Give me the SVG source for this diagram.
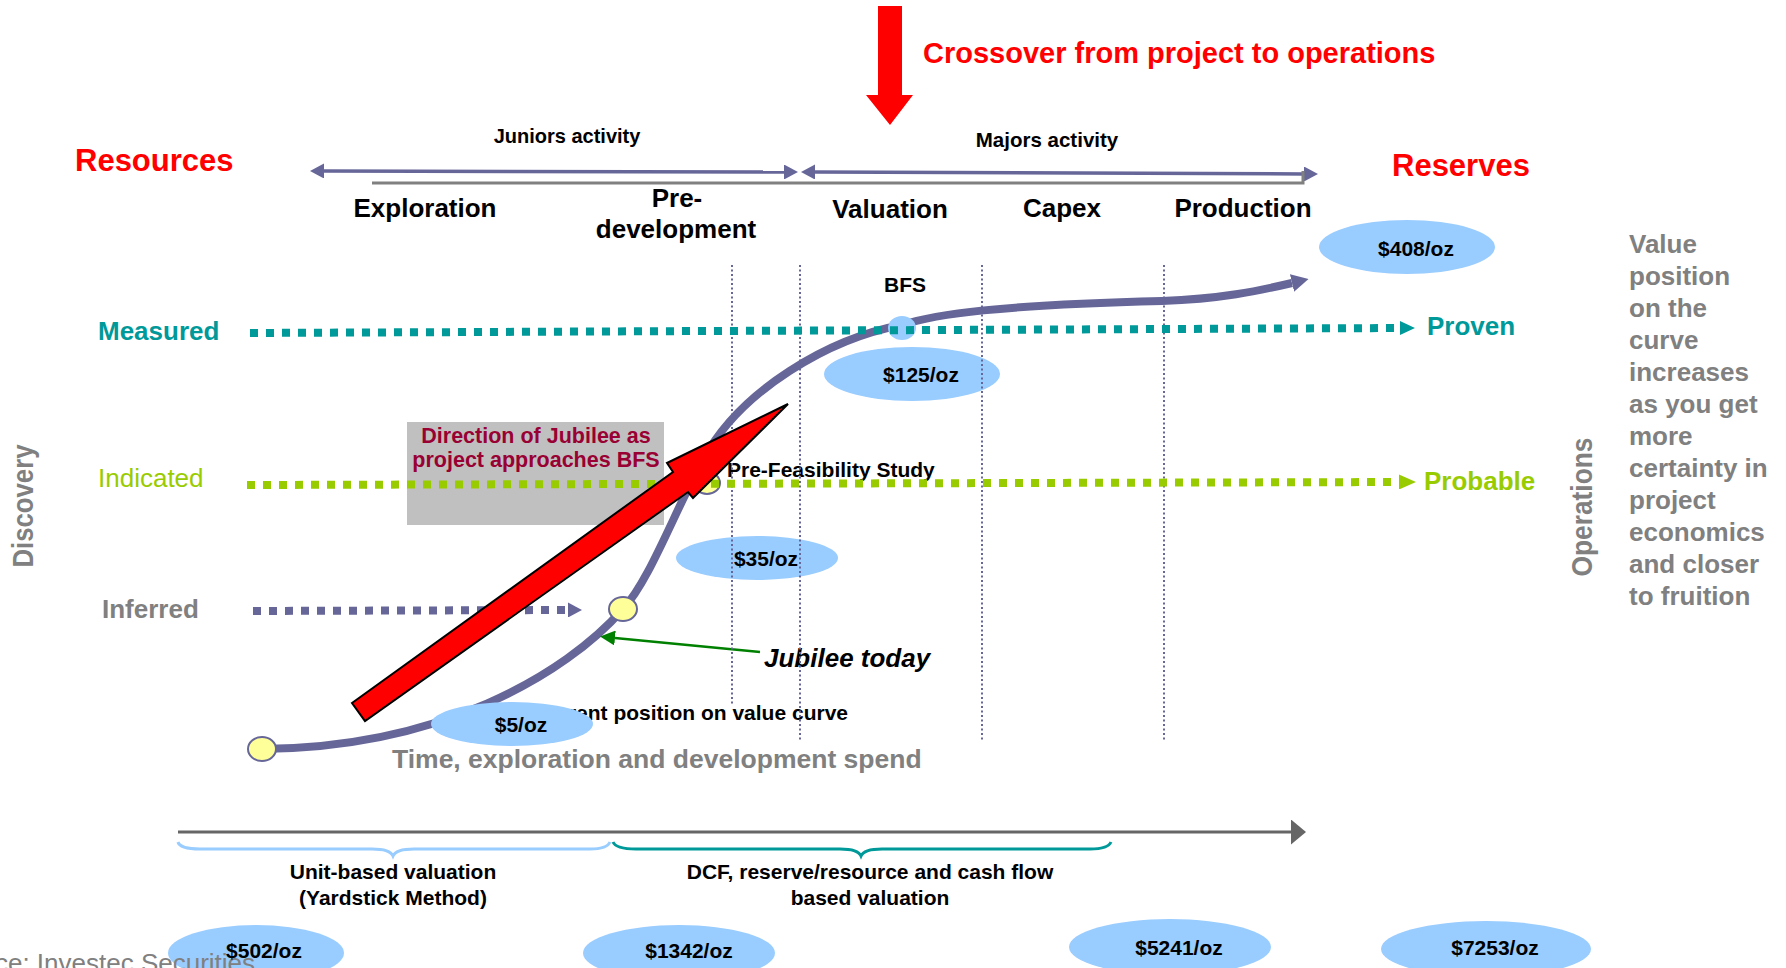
<svg xmlns="http://www.w3.org/2000/svg" width="1786" height="968" viewBox="0 0 1786 968">
<defs>
<style>
text{font-family:"Liberation Sans",Arial,Helvetica,sans-serif}
.b{font-weight:bold}
.red{fill:#FF0000}
.lbl{font-size:21px;font-weight:bold;fill:#000000}
.phase{font-size:26px;font-weight:bold;fill:#000000;text-anchor:middle}
.oval{fill:#99CCFF}
.val{font-size:21px;font-weight:bold;fill:#000000;text-anchor:middle}
.grey{fill:#808080}
.cat{font-size:26px}
.vdot{stroke:#666699;stroke-width:2;stroke-dasharray:2 2.5;fill:none}
.dots{fill:none;stroke-width:8;stroke-dasharray:8 8}
.bead{fill:#FFFF99;stroke:#666699;stroke-width:2}
.side{font-size:26px;font-weight:bold;fill:#808080}
</style>
<marker id="hPurple" markerUnits="userSpaceOnUse" viewBox="0 0 14 15" markerWidth="14" markerHeight="15" refX="0" refY="7.5" orient="auto-start-reverse"><path d="M0,0 L14,7.5 L0,15 z" fill="#666699"/></marker>
<marker id="hTeal" markerUnits="userSpaceOnUse" viewBox="0 0 15 14" markerWidth="15" markerHeight="14" refX="0" refY="7" orient="auto"><path d="M0,0 L15,7 L0,14 z" fill="#009999"/></marker>
<marker id="hLime" markerUnits="userSpaceOnUse" viewBox="0 0 17 15" markerWidth="17" markerHeight="15" refX="0" refY="7.5" orient="auto"><path d="M0,0 L17,7.5 L0,15 z" fill="#99CC00"/></marker>
<marker id="hAxis" markerUnits="userSpaceOnUse" viewBox="0 0 15 25" markerWidth="15" markerHeight="25" refX="0" refY="12.5" orient="auto"><path d="M0,0 L15,12.5 L0,25 z" fill="#666666"/></marker>
<marker id="hGreen" markerUnits="userSpaceOnUse" viewBox="0 0 15 15" markerWidth="15" markerHeight="15" refX="0" refY="7.5" orient="auto"><path d="M0,0 L15,7.5 L0,15 z" fill="#008000"/></marker>
<marker id="hCurve" markerUnits="userSpaceOnUse" viewBox="0 0 17 18" markerWidth="17" markerHeight="18" refX="0" refY="9" orient="auto"><path d="M0,0 L17,9 L0,18 z" fill="#666699"/></marker>
</defs>
<rect x="0" y="0" width="1786" height="968" fill="#FFFFFF"/>

<!-- Direction box -->
<g id="direction-box">
<rect x="407" y="422" width="257" height="103" fill="#C0C0C0"/>
<text x="536" y="443" font-size="21.5" text-anchor="middle" class="b" fill="#990033">Direction of Jubilee as</text>
<text x="536" y="467" font-size="21.5" text-anchor="middle" class="b" fill="#990033">project approaches BFS</text>
</g>

<!-- Titles -->
<g id="crossover">
<polygon points="878,6 902,6 902,95 913,95 890,125 866,95 878,95" fill="#FF0000"/>
<text x="923" y="63" font-size="29" class="b red">Crossover from project to operations</text>
</g>
<g id="resources"><text x="75" y="171" font-size="31" class="b red">Resources</text></g>
<g id="reserves"><text x="1392" y="176" font-size="31" class="b red">Reserves</text></g>
<g id="juniors"><text x="567" y="143" font-size="20" class="b" text-anchor="middle">Juniors activity</text></g>
<g id="majors"><text x="1047" y="147" font-size="20.5" class="b" text-anchor="middle">Majors activity</text></g>

<g id="phases">
<text x="425" y="217" class="phase">Exploration</text>
<text x="677" y="207" class="phase">Pre-</text>
<text x="676" y="238" class="phase">development</text>
<text x="890" y="218" class="phase">Valuation</text>
<text x="1062" y="217" class="phase">Capex</text>
<text x="1243" y="217" class="phase">Production</text>
</g>

<!-- Category labels -->
<g id="measured"><text x="98" y="340" class="cat b" fill="#009999">Measured</text></g>
<g id="indicated"><text x="98" y="487" class="cat" fill="#99CC00">Indicated</text></g>
<g id="inferred"><text x="102" y="618" class="cat b grey">Inferred</text></g>
<g id="proven"><text x="1427" y="335" class="cat b" fill="#009999">Proven</text></g>
<g id="probable"><text x="1424" y="490" class="cat b" fill="#99CC00">Probable</text></g>
<g id="discovery"><text transform="translate(33,506) rotate(-90)" font-size="29" class="b grey" text-anchor="middle" textLength="123" lengthAdjust="spacingAndGlyphs">Discovery</text></g>
<g id="operations"><text transform="translate(1592,507) rotate(-90)" font-size="29" class="b grey" text-anchor="middle" textLength="139" lengthAdjust="spacingAndGlyphs">Operations</text></g>

<g id="value-note">
<text x="1629" y="253" class="side">Value</text>
<text x="1629" y="285" class="side">position</text>
<text x="1629" y="317" class="side">on the</text>
<text x="1629" y="349" class="side">curve</text>
<text x="1629" y="381" class="side">increases</text>
<text x="1629" y="413" class="side">as you get</text>
<text x="1629" y="445" class="side">more</text>
<text x="1629" y="477" class="side">certainty in</text>
<text x="1629" y="509" class="side">project</text>
<text x="1629" y="541" class="side">economics</text>
<text x="1629" y="573" class="side">and closer</text>
<text x="1629" y="605" class="side">to fruition</text>
</g>

<!-- small labels -->
<g id="bfs-label"><text x="905" y="292" class="lbl" text-anchor="middle">BFS</text></g>
<g id="pfs-label"><text x="727" y="477" class="lbl">Pre-Feasibility Study</text></g>
<g id="current-label"><text x="848" y="720" class="lbl" text-anchor="end">Current position on value curve</text></g>
<g id="jubilee-today"><text x="764" y="667" font-size="26" class="b" font-style="italic">Jubilee today</text></g>
<g id="time-label"><text x="392" y="768" font-size="26.5" class="b grey">Time, exploration and development spend</text></g>

<!-- connectors -->
<g id="connectors">
<line x1="324" y1="171" x2="784" y2="172" stroke="#666699" stroke-width="3.5" marker-start="url(#hPurple)" marker-end="url(#hPurple)"/>
<line x1="815" y1="172" x2="1304" y2="174" stroke="#666699" stroke-width="3.5" marker-start="url(#hPurple)" marker-end="url(#hPurple)"/>
<polyline points="372,183 1303,183 1303,171" fill="none" stroke="#808080" stroke-width="3"/>

<path d="M261,749 C440,748 565,675 623,609 C650,580 675,510 703,460 C740,390 830,338 902,325 C935,314 1000,305 1162,301 C1220,299 1258,291 1292,283" fill="none" stroke="#666699" stroke-width="8" marker-end="url(#hCurve)"/>

<line x1="760" y1="652" x2="615" y2="638" stroke="#008000" stroke-width="2.5" marker-end="url(#hGreen)"/>
<line x1="178" y1="832" x2="1291" y2="832" stroke="#666666" stroke-width="3" marker-end="url(#hAxis)"/>
<path d="M178,842 Q180,849 200,849 L372,849 Q390,849 393,856 Q396,849 414,849 L590,849 Q607,849 610,842" fill="none" stroke="#99CCFF" stroke-width="3"/>
<path d="M613,842 Q616,849 636,849 L840,849 Q858,849 861,856 Q864,849 882,849 L1090,849 Q1108,849 1111,842" fill="none" stroke="#009999" stroke-width="3"/>
</g>

<!-- beads -->
<g id="bead-start"><ellipse cx="262" cy="749" rx="14" ry="12" class="bead"/></g>
<g id="bead-today"><ellipse cx="623" cy="609" rx="14" ry="12" class="bead"/></g>
<g id="bead-pfs"><ellipse cx="707" cy="483" rx="13" ry="11" class="bead"/></g>
<g id="bead-bfs"><ellipse cx="902" cy="328" rx="14" ry="12" fill="#99CCFF"/></g>

<!-- value ovals -->
<g id="oval-408"><ellipse cx="1407" cy="247" rx="88" ry="27" class="oval"/><text x="1416" y="256" class="val">$408/oz</text></g>
<g id="oval-125"><ellipse cx="912" cy="374" rx="88" ry="27" class="oval"/><text x="921" y="382" class="val">$125/oz</text></g>
<g id="oval-35"><ellipse cx="757" cy="558" rx="81" ry="22" class="oval"/><text x="766" y="566" class="val">$35/oz</text></g>
<g id="oval-5"><ellipse cx="512" cy="724" rx="81" ry="22" class="oval"/><text x="521" y="732" class="val">$5/oz</text></g>

<!-- vertical dotted -->
<g id="phase-dividers">
<line x1="732" y1="265" x2="732" y2="705" class="vdot"/>
<line x1="800" y1="265" x2="800" y2="742" class="vdot"/>
<line x1="982" y1="265" x2="982" y2="742" class="vdot"/>
<line x1="1164" y1="265" x2="1164" y2="742" class="vdot"/>
</g>

<!-- dotted category lines -->
<g id="category-lines">
<line x1="250" y1="333" x2="1400" y2="328" class="dots" stroke="#009999" marker-end="url(#hTeal)"/>
<line x1="247" y1="485" x2="1399" y2="482" class="dots" stroke="#99CC00" marker-end="url(#hLime)"/>
<line x1="253" y1="611" x2="568" y2="610" class="dots" stroke="#666699" marker-end="url(#hPurple)"/>
</g>

<!-- big red direction arrow -->
<g id="direction-arrow">
<polygon points="352,703 673,472 667,463 788,404 693,498 688,492 365,721" fill="#FF0000" stroke="#000000" stroke-width="2" stroke-linejoin="miter"/>
</g>

<!-- valuation method labels -->
<g id="unit-based">
<text x="393" y="879" class="lbl" text-anchor="middle">Unit-based valuation</text>
<text x="393" y="905" class="lbl" text-anchor="middle">(Yardstick Method)</text>
</g>
<g id="dcf">
<text x="870" y="879" class="lbl" text-anchor="middle">DCF, reserve/resource and cash flow</text>
<text x="870" y="905" class="lbl" text-anchor="middle">based valuation</text>
</g>

<!-- bottom ovals -->
<g id="oval-502"><ellipse cx="256" cy="953" rx="88" ry="28" class="oval"/></g>
<g id="source"><text x="-60" y="972" font-size="26" class="grey">Source: Investec Securities</text></g>
<g id="oval-502-label"><text x="264" y="958" class="val">$502/oz</text></g>
<g id="oval-1342"><ellipse cx="679" cy="953" rx="96" ry="28" class="oval"/><text x="689" y="958" class="val">$1342/oz</text></g>
<g id="oval-5241"><ellipse cx="1170" cy="947" rx="101" ry="28" class="oval"/><text x="1179" y="955" class="val">$5241/oz</text></g>
<g id="oval-7253"><ellipse cx="1486" cy="949" rx="105" ry="28" class="oval"/><text x="1495" y="955" class="val">$7253/oz</text></g>
</svg>
